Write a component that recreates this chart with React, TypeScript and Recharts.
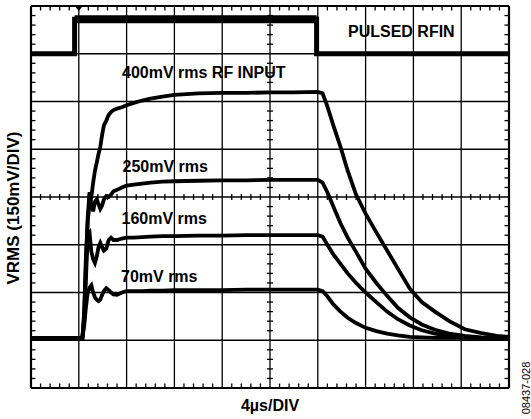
import React from 'react';
import { LineChart, Line, XAxis, YAxis, ReferenceLine } from 'recharts';

// time in µs (4 µs/div), levels in scope divisions (0..8, 150 mV/div)
const time = [0, 4.3, 4.45, 4.6, 4.75, 4.9, 5.05, 5.2, 5.35, 5.5, 5.65, 5.8, 5.95, 6.1, 6.3, 6.5, 6.7, 6.9, 7.2, 7.6, 8.0, 8.6, 9.3, 10, 11, 12, 14, 16, 18, 20, 22, 24, 24.4, 24.8, 25.3, 25.9, 26.5, 27.2, 28, 28.9, 29.8, 30.7, 31.7, 32.7, 33.8, 35, 36.3, 37.7, 39, 40];
const rms400 = [1.05, 1.05, 1.6, 2.8, 3.5, 3.85, 4.0, 4.3, 4.55, 4.72, 4.9, 5.05, 5.3, 5.5, 5.6, 5.72, 5.78, 5.82, 5.85, 5.88, 5.92, 5.97, 6.02, 6.06, 6.1, 6.14, 6.17, 6.18, 6.18, 6.19, 6.19, 6.2, 6.17, 5.9, 5.5, 5.05, 4.55, 4.05, 3.65, 3.26, 2.88, 2.5, 2.08, 1.8, 1.6, 1.4, 1.23, 1.15, 1.09, 1.07];
const rms250 = [1.05, 1.05, 1.5, 2.6, 3.6, 4.1, 3.85, 3.7, 3.9, 3.95, 3.85, 3.75, 3.82, 3.95, 4.02, 4.0, 4.05, 4.12, 4.15, 4.2, 4.24, 4.26, 4.28, 4.3, 4.32, 4.33, 4.34, 4.35, 4.35, 4.36, 4.36, 4.36, 4.3, 4.1, 3.8, 3.45, 3.15, 2.85, 2.5, 2.2, 1.93, 1.68, 1.48, 1.33, 1.22, 1.14, 1.09, 1.06, 1.05, 1.05];
const rms160 = [1.05, 1.05, 1.4, 2.3, 3.2, 3.25, 2.85, 2.7, 2.62, 2.75, 2.95, 3.04, 2.95, 2.88, 2.92, 3.1, 3.15, 3.1, 3.1, 3.13, 3.15, 3.15, 3.16, 3.17, 3.18, 3.18, 3.19, 3.19, 3.2, 3.2, 3.2, 3.2, 3.17, 3.0, 2.8, 2.6, 2.4, 2.2, 2.0, 1.8, 1.6, 1.44, 1.31, 1.21, 1.14, 1.09, 1.06, 1.05, 1.05, 1.05];
const rms70 = [1.05, 1.05, 1.3, 1.7, 2.0, 2.1, 2.15, 2.0, 1.9, 1.85, 1.82, 1.85, 1.95, 2.03, 2.09, 2.05, 2.0, 1.96, 1.95, 2.0, 2.03, 2.03, 2.03, 2.04, 2.04, 2.05, 2.05, 2.05, 2.06, 2.06, 2.06, 2.06, 2.03, 1.92, 1.75, 1.6, 1.47, 1.36, 1.26, 1.19, 1.14, 1.1, 1.07, 1.06, 1.05, 1.05, 1.05, 1.05, 1.05, 1.05];

const pulseTime = [0, 3.65, 3.65, 23.9, 23.9, 40];
const pulseLevel = [7.0, 7.0, 7.72, 7.72, 7.0, 7.0];

const X_MAX = 40;
const Y_MAX = 8;
const majorTimes = [0, 4, 8, 12, 16, 20, 24, 28, 32, 36, 40];
const majorDivs = [0, 1, 2, 3, 4, 5, 6, 7, 8];
const minorTimes = Array.from({ length: 51 }, (_, i) => +(i * 0.8).toFixed(2)).filter((t) => t % 4 !== 0);
const minorDivs = Array.from({ length: 41 }, (_, i) => +(i * 0.2).toFixed(2)).filter((d) => d % 1 !== 0);
const triggerTime = 4;

const traceRows = time.map((t, i) => ({ t, a: rms400[i], b: rms250[i], c: rms160[i], d: rms70[i] }));
const pulseRows = pulseTime.map((t, i) => ({ t, p: pulseLevel[i] }));
const pulseHighRows = pulseRows.slice(2, 4);

const FONT = '"Liberation Sans", Arial, Helvetica, sans-serif';

// graticule line with minor ticks; a / b = tick ends relative to the line (px)
const hLine = (a: number, b: number, w: number) => (p: any) => {
  const left = Math.min(p.x1, p.x2);
  const right = Math.max(p.x1, p.x2);
  const y = p.y1;
  return (
    <g>
      <line x1={left} y1={y} x2={right} y2={y} stroke="#000" strokeWidth={w} />
      {a !== b &&
        minorTimes.map((t) => {
          const x = left + ((right - left) * t) / X_MAX;
          return <line key={t} x1={x} y1={y + a} x2={x} y2={y + b} stroke="#000" strokeWidth={1.3} />;
        })}
    </g>
  );
};

const vLine = (a: number, b: number, w: number, trigger = false) => (p: any) => {
  const top = Math.min(p.y1, p.y2);
  const bottom = Math.max(p.y1, p.y2);
  const x = p.x1;
  return (
    <g>
      <line x1={x} y1={top} x2={x} y2={bottom} stroke="#000" strokeWidth={w} />
      {a !== b &&
        minorDivs.map((d) => {
          const y = bottom - ((bottom - top) * d) / Y_MAX;
          return <line key={d} x1={x + a} y1={y} x2={x + b} y2={y} stroke="#000" strokeWidth={1.3} />;
        })}
      {trigger && <path d={`M${x - 4},${top} L${x + 4},${top} L${x},${top + 5} Z`} fill="#000" />}
    </g>
  );
};

const App: React.FC = () => {
  return (
    <div style={{ position: 'relative', width: 531, height: 419, background: '#fff' }}>
      <style>{'body{margin:0}'}</style>
      <LineChart width={531} height={419} data={traceRows} margin={{ top: 6, right: 22, bottom: 31, left: 31 }}>
        <XAxis type="number" dataKey="t" domain={[0, X_MAX]} hide allowDataOverflow />
        <YAxis type="number" domain={[0, Y_MAX]} hide allowDataOverflow />

        {majorTimes.map((t) => {
          const shape =
            t === 0
              ? vLine(0, 4.5, 2.2)
              : t === X_MAX
              ? vLine(0, -4.5, 2.2)
              : t === X_MAX / 2
              ? vLine(-3, 3, 1.3)
              : vLine(0, 0, 1.3, t === triggerTime);
          return <ReferenceLine key={'vx' + t} x={t} shape={shape} />;
        })}
        {majorDivs.map((d) => {
          const shape =
            d === 0
              ? hLine(0, -4.5, 2.2)
              : d === Y_MAX
              ? hLine(0, 4.5, 2.2)
              : d === Y_MAX / 2
              ? hLine(-3, 3, 1.3)
              : hLine(0, 0, 1.3);
          return <ReferenceLine key={'hy' + d} y={d} shape={shape} />;
        })}

        <Line data={pulseRows} dataKey="p" type="linear" stroke="#000" strokeWidth={5} dot={false} isAnimationActive={false} />
        <Line data={pulseHighRows} dataKey="p" type="linear" stroke="#000" strokeWidth={8} dot={false} isAnimationActive={false} />
        <Line dataKey="d" type="linear" stroke="#000" strokeWidth={3.8} dot={false} isAnimationActive={false} />
        <Line dataKey="c" type="linear" stroke="#000" strokeWidth={3.8} dot={false} isAnimationActive={false} />
        <Line dataKey="b" type="linear" stroke="#000" strokeWidth={3.8} dot={false} isAnimationActive={false} />
        <Line dataKey="a" type="linear" stroke="#000" strokeWidth={3.8} dot={false} isAnimationActive={false} />
      </LineChart>

      <svg width={531} height={419} style={{ position: 'absolute', left: 0, top: 0, pointerEvents: 'none' }}>
        <g fontFamily={FONT} fontWeight="bold" fontSize={16} fill="#000">
          <text x={348} y={37.3}>PULSED RFIN</text>
          <text x={122} y={77.5}>400mV rms RF INPUT</text>
          <text x={122.5} y={171.5}>250mV rms</text>
          <text x={121.5} y={224}>160mV rms</text>
          <text x={121} y={281.5}>70mV rms</text>
          <text x={270} y={410.7} textAnchor="middle">4µs/DIV</text>
          <text x={19} y={208} textAnchor="middle" fontSize={17} transform="rotate(-90 19 208)">VRMS (150mV/DIV)</text>
        </g>
        <text x={530} y={388} textAnchor="middle" fontFamily={FONT} fontSize={11} transform="rotate(-90 530 388)">08437-028</text>
      </svg>
    </div>
  );
};

export default App;
